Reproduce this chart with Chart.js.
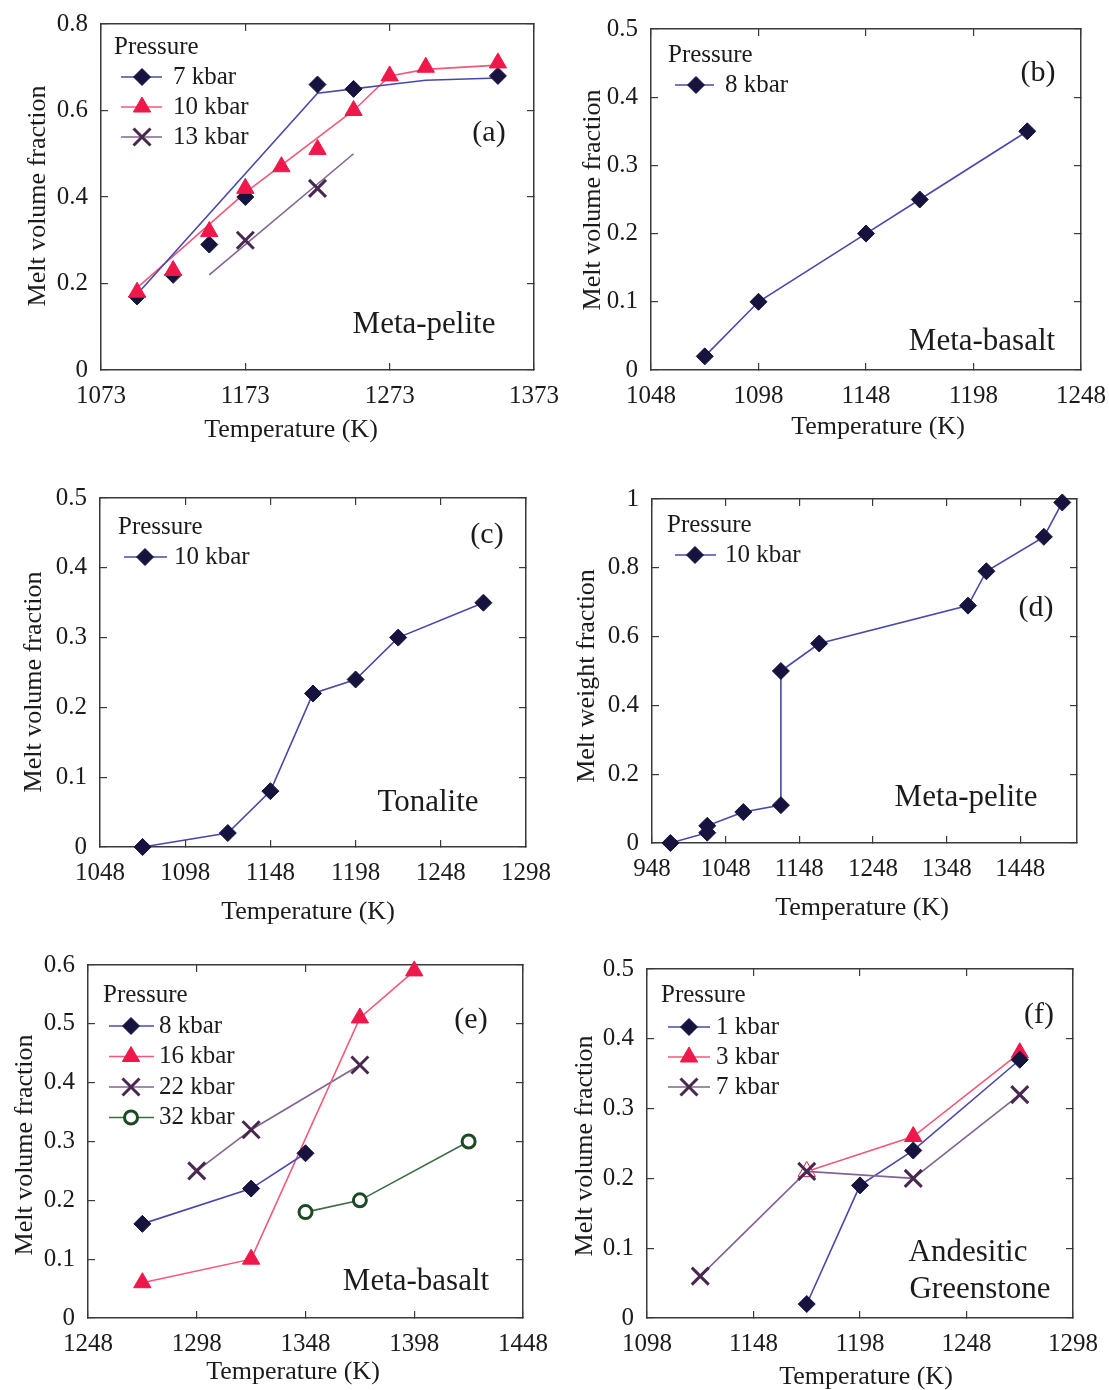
<!DOCTYPE html>
<html>
<head>
<meta charset="utf-8">
<title>Melt fraction vs temperature</title>
<script src="https://cdn.jsdelivr.net/npm/chart.js@4.4.1/dist/chart.umd.min.js"></script>
<style>
  html, body { margin: 0; padding: 0; background: #fff; }
  #sheet { position: relative; width: 1109px; height: 1390px; overflow: hidden; }
  #sheet canvas { position: absolute; }
</style>
</head>
<body>
<div id="sheet">
  <canvas id="panel-a"></canvas>
  <canvas id="panel-b"></canvas>
  <canvas id="panel-c"></canvas>
  <canvas id="panel-d"></canvas>
  <canvas id="panel-e"></canvas>
  <canvas id="panel-f"></canvas>
</div>
<script>
// ---- data: temperature (K) and melt fraction ----

// (a) meta-pelite
const aTempTicks = [1073, 1173, 1273, 1373];
const aMeltTicks = [0, 0.2, 0.4, 0.6, 0.8];
const a7Temp = [1098, 1123, 1148, 1173, 1223, 1248, 1348];
const a7Melt = [0.17, 0.22, 0.29, 0.40, 0.66, 0.65, 0.68];
const a7CurveTemp = [1098, 1223, 1248, 1273, 1298, 1348];
const a7CurveMelt = [0.175, 0.64, 0.65, 0.66, 0.67, 0.675];
const a10Temp = [1098, 1123, 1148, 1173, 1198, 1223, 1248, 1273, 1298, 1348];
const a10Melt = [0.18, 0.23, 0.32, 0.42, 0.47, 0.51, 0.60, 0.68, 0.70, 0.71];
const a10CurveTemp = [1098, 1173, 1248, 1273, 1298, 1348];
const a10CurveMelt = [0.19, 0.41, 0.60, 0.68, 0.695, 0.705];
const a13Temp = [1173, 1223];
const a13Melt = [0.30, 0.42];
const a13CurveTemp = [1148, 1248];
const a13CurveMelt = [0.22, 0.50];

// (b) meta-basalt
const bTempTicks = [1048, 1098, 1148, 1198, 1248];
const bMeltTicks = [0, 0.1, 0.2, 0.3, 0.4, 0.5];
const b8Temp = [1073, 1098, 1148, 1173, 1223];
const b8Melt = [0.02, 0.10, 0.20, 0.25, 0.35];

// (c) tonalite
const cTempTicks = [1048, 1098, 1148, 1198, 1248, 1298];
const cMeltTicks = [0, 0.1, 0.2, 0.3, 0.4, 0.5];
const c10Temp = [1073, 1123, 1148, 1173, 1198, 1223, 1273];
const c10Melt = [0, 0.02, 0.08, 0.22, 0.24, 0.30, 0.35];

// (d) meta-pelite, weight fraction
const dTempTicks = [948, 1048, 1148, 1248, 1348, 1448];
const dMeltTicks = [0, 0.2, 0.4, 0.6, 0.8, 1];
const d10Temp = [973, 1023, 1023, 1072, 1123, 1123, 1175, 1377, 1402, 1480, 1505];
const d10Melt = [0, 0.03, 0.05, 0.09, 0.11, 0.50, 0.58, 0.69, 0.79, 0.89, 0.99];

// (e) meta-basalt
const eTempTicks = [1248, 1298, 1348, 1398, 1448];
const eMeltTicks = [0, 0.1, 0.2, 0.3, 0.4, 0.5, 0.6];
const e8Temp = [1273, 1323, 1348];
const e8Melt = [0.16, 0.22, 0.28];
const e16Temp = [1273, 1323, 1373, 1398];
const e16Melt = [0.06, 0.10, 0.51, 0.59];
const e22Temp = [1298, 1323, 1373];
const e22Melt = [0.25, 0.32, 0.43];
const e32Temp = [1348, 1373, 1423];
const e32Melt = [0.18, 0.20, 0.30];

// (f) andesitic greenstone
const fTempTicks = [1098, 1148, 1198, 1248, 1298];
const fMeltTicks = [0, 0.1, 0.2, 0.3, 0.4, 0.5];
const f1Temp = [1173, 1198, 1223, 1273];
const f1Melt = [0.02, 0.19, 0.24, 0.37];
const f3Temp = [1173, 1223, 1273];
const f3Melt = [0.21, 0.26, 0.38];
const f7Temp = [1123, 1173, 1223, 1273];
const f7Melt = [0.06, 0.21, 0.20, 0.32];

// ---- styles ----
const serif = '"Liberation Serif", "Times New Roman", serif';
const ink = '#1b1b1b';
const frame = '#3a3a3a';
const navy = '#16143f';
const blueLine = '#4848ac';
const red = '#f0184a';
const redLine = '#f2587a';
const plum = '#48284f';
const plumLine = '#82648f';
const green = '#1d4a24';
const greenLine = '#3d6c44';

const diamond = { pointStyle: 'rectRot', pointRadius: 8.5, pointBackgroundColor: navy, pointBorderColor: navy, pointBorderWidth: 1 };
const triangle = { pointStyle: 'triangle', pointRadius: 10, pointBackgroundColor: red, pointBorderColor: red, pointBorderWidth: 1 };
const cross = { pointStyle: 'crossRot', pointRadius: 12, pointBackgroundColor: plum, pointBorderColor: plum, pointBorderWidth: 3 };
const ring = { pointStyle: 'circle', pointRadius: 6.5, pointBackgroundColor: '#fff', pointBorderColor: green, pointBorderWidth: 3 };

Chart.defaults.font.family = serif;

function series(temps, melts, marker, lineColor, extra) {
  return Object.assign({
    data: temps.map((t, i) => ({ x: t, y: melts[i] })),
    showLine: Boolean(lineColor),
    borderColor: lineColor || marker.pointBorderColor,
    borderWidth: 1.6,
    clip: false,
  }, marker, extra || {});
}

function curve(temps, melts, lineColor) {
  return series(temps, melts, { pointRadius: 0 }, lineColor);
}

// boxed frame with inward ticks on all four sides
function frameAxes(p) {
  const [cx, cy, cw, ch] = p.cell;
  const [L, T, R, B] = p.area;
  const size = { left: L - cx, top: T - cy, right: cx + cw - R, bottom: cy + ch - B };
  const border = { display: true, color: frame, width: 1.5 };
  const grid = { drawOnChartArea: false, drawTicks: true, tickLength: -7, color: frame, lineWidth: 1.2 };
  const font = { family: serif, size: 25 };
  const pin = (values) => (scale) => { scale.ticks = values.map((value) => ({ value })); };
  const label = (v) => String(v);
  // keep label overhang from shrinking the plot box
  const noPad = (s) => { s.paddingLeft = 0; s.paddingRight = 0; s.paddingTop = 0; s.paddingBottom = 0; };
  return {
    x: {
      type: 'linear', axis: 'x', position: 'bottom', min: p.xMin, max: p.xMax, border, grid,
      ticks: { font, color: ink, padding: 18, maxRotation: 0, minRotation: 0, autoSkip: false, callback: label },
      afterBuildTicks: pin(p.xTicks),
      afterFit: (s) => { s.height = size.bottom; noPad(s); },
    },
    x2: {
      type: 'linear', axis: 'x', position: 'top', min: p.xMin, max: p.xMax, border, grid,
      ticks: { display: false },
      afterBuildTicks: pin(p.xTicks),
      afterFit: (s) => { s.height = size.top; noPad(s); },
    },
    y: {
      type: 'linear', axis: 'y', position: 'left', min: 0, max: p.yMax, border, grid,
      ticks: { font, color: ink, padding: 20, autoSkip: false, callback: label },
      afterBuildTicks: pin(p.yTicks),
      afterFit: (s) => { s.width = size.left; noPad(s); },
    },
    y2: {
      type: 'linear', axis: 'y', position: 'right', min: 0, max: p.yMax, border, grid,
      ticks: { display: false },
      afterBuildTicks: pin(p.yTicks),
      afterFit: (s) => { s.width = size.right; noPad(s); },
    },
  };
}

// axis titles, panel notes and the "Pressure" legend, placed in page pixels
function panelDecor(p) {
  return {
    id: 'panelDecor',
    afterDraw(chart) {
      const ctx = chart.ctx;
      const [ox, oy] = p.cell;
      ctx.save();
      ctx.fillStyle = ink;
      ctx.textBaseline = 'middle';
      ctx.textAlign = 'center';
      ctx.font = `26px ${serif}`;
      ctx.fillText('Temperature (K)', p.xTitleAt[0] - ox, p.xTitleAt[1] - oy);
      ctx.save();
      ctx.translate(p.yTitleAt[0] - ox, p.yTitleAt[1] - oy);
      ctx.rotate(-Math.PI / 2);
      ctx.fillText(p.yTitle, 0, 0);
      ctx.restore();

      p.notes.forEach(([text, x, y, size]) => {
        ctx.font = `${size}px ${serif}`;
        ctx.fillText(text, x - ox, y - oy);
      });

      const lg = p.legend;
      ctx.textAlign = 'left';
      ctx.font = `25px ${serif}`;
      ctx.fillText('Pressure', lg.x - ox, lg.titleY - oy);
      lg.items.forEach((item, i) => {
        const y = lg.rowY + i * lg.rowGap - oy;
        ctx.strokeStyle = item.line;
        ctx.lineWidth = 1.6;
        ctx.beginPath();
        ctx.moveTo(lg.lineFrom - ox, y);
        ctx.lineTo(lg.lineTo - ox, y);
        ctx.stroke();
        const m = item.marker;
        ctx.fillStyle = m.pointBackgroundColor;
        ctx.strokeStyle = m.pointBorderColor;
        ctx.lineWidth = m.pointBorderWidth;
        Chart.helpers.drawPoint(ctx, { pointStyle: m.pointStyle, radius: m.pointRadius, borderWidth: m.pointBorderWidth, rotation: 0 }, lg.markX - ox, y);
        ctx.fillStyle = ink;
        ctx.fillText(item.label, lg.textX - ox, y);
      });
      ctx.restore();
    },
  };
}

function makePanel(id, p, datasets) {
  const canvas = document.getElementById(id);
  const [cx, cy, cw, ch] = p.cell;
  canvas.width = cw;
  canvas.height = ch;
  canvas.style.left = cx + 'px';
  canvas.style.top = cy + 'px';
  return new Chart(canvas, {
    type: 'scatter',
    data: { datasets },
    options: {
      responsive: false,
      animation: false,
      layout: { padding: 0, autoPadding: false },
      plugins: { legend: { display: false }, tooltip: { enabled: false } },
      scales: frameAxes(p),
    },
    plugins: [panelDecor(p)],
  });
}

makePanel('panel-a', {
  cell: [0, 0, 560, 460], area: [101, 24, 534, 370],
  xMin: 1073, xMax: 1373, xTicks: aTempTicks, yMax: 0.8, yTicks: aMeltTicks,
  yTitle: 'Melt volume fraction', xTitleAt: [291, 430], yTitleAt: [38, 196],
  notes: [['(a)', 489, 133, 30], ['Meta-pelite', 424, 325, 31]],
  legend: {
    x: 114, titleY: 47, lineFrom: 121, lineTo: 162, markX: 142, textX: 173, rowY: 77, rowGap: 30,
    items: [
      { label: '7 kbar', line: blueLine, marker: diamond },
      { label: '10 kbar', line: redLine, marker: triangle },
      { label: '13 kbar', line: plumLine, marker: cross },
    ],
  },
}, [
  series(a10Temp, a10Melt, triangle),
  series(a13Temp, a13Melt, cross),
  series(a7Temp, a7Melt, diamond),
  curve(a7CurveTemp, a7CurveMelt, blueLine),
  curve(a10CurveTemp, a10CurveMelt, redLine),
  curve(a13CurveTemp, a13CurveMelt, plumLine),
]);

makePanel('panel-b', {
  cell: [560, 0, 549, 460], area: [651, 29, 1081, 370],
  xMin: 1048, xMax: 1248, xTicks: bTempTicks, yMax: 0.5, yTicks: bMeltTicks,
  yTitle: 'Melt volume fraction', xTitleAt: [878, 427], yTitleAt: [593, 200],
  notes: [['(b)', 1038, 73, 30], ['Meta-basalt', 982, 342, 31]],
  legend: {
    x: 668, titleY: 55, lineFrom: 675, lineTo: 714, markX: 696, textX: 725, rowY: 85, rowGap: 30,
    items: [{ label: '8 kbar', line: blueLine, marker: diamond }],
  },
}, [
  series(b8Temp, b8Melt, diamond, blueLine),
]);

makePanel('panel-c', {
  cell: [0, 460, 560, 480], area: [100, 498, 526, 847],
  xMin: 1048, xMax: 1298, xTicks: cTempTicks, yMax: 0.5, yTicks: cMeltTicks,
  yTitle: 'Melt volume fraction', xTitleAt: [308, 912], yTitleAt: [34, 682],
  notes: [['(c)', 487, 535, 30], ['Tonalite', 428, 803, 31]],
  legend: {
    x: 118, titleY: 527, lineFrom: 124, lineTo: 167, markX: 145, textX: 174, rowY: 557, rowGap: 30,
    items: [{ label: '10 kbar', line: blueLine, marker: diamond }],
  },
}, [
  series(c10Temp, c10Melt, diamond, blueLine),
]);

makePanel('panel-d', {
  cell: [560, 460, 549, 480], area: [652, 499, 1077, 843],
  xMin: 948, xMax: 1525, xTicks: dTempTicks, yMax: 1, yTicks: dMeltTicks,
  yTitle: 'Melt weight fraction', xTitleAt: [862, 908], yTitleAt: [587, 676],
  notes: [['(d)', 1036, 608, 30], ['Meta-pelite', 966, 798, 31]],
  legend: {
    x: 667, titleY: 525, lineFrom: 675, lineTo: 716, markX: 695, textX: 725, rowY: 555, rowGap: 30,
    items: [{ label: '10 kbar', line: blueLine, marker: diamond }],
  },
}, [
  series(d10Temp, d10Melt, diamond, blueLine),
]);

makePanel('panel-e', {
  cell: [0, 940, 560, 450], area: [88, 965, 523, 1318],
  xMin: 1248, xMax: 1448, xTicks: eTempTicks, yMax: 0.6, yTicks: eMeltTicks,
  yTitle: 'Melt volume fraction', xTitleAt: [293, 1372], yTitleAt: [25, 1145],
  notes: [['(e)', 471, 1020, 30], ['Meta-basalt', 416, 1282, 31]],
  legend: {
    x: 103, titleY: 995, lineFrom: 109, lineTo: 154, markX: 131, textX: 159, rowY: 1026, rowGap: 30.5,
    items: [
      { label: '8 kbar', line: blueLine, marker: diamond },
      { label: '16 kbar', line: redLine, marker: triangle },
      { label: '22 kbar', line: plumLine, marker: cross },
      { label: '32 kbar', line: greenLine, marker: ring },
    ],
  },
}, [
  series(e8Temp, e8Melt, diamond, blueLine),
  series(e16Temp, e16Melt, triangle, redLine),
  series(e22Temp, e22Melt, cross, plumLine),
  series(e32Temp, e32Melt, ring, greenLine),
]);

makePanel('panel-f', {
  cell: [560, 940, 549, 450], area: [647, 969, 1073, 1318],
  xMin: 1098, xMax: 1298, xTicks: fTempTicks, yMax: 0.5, yTicks: fMeltTicks,
  yTitle: 'Melt volume fraction', xTitleAt: [866, 1377], yTitleAt: [585, 1146],
  notes: [['(f)', 1039, 1015, 30], ['Andesitic', 968, 1253, 31], ['Greenstone', 980, 1290, 31]],
  legend: {
    x: 661, titleY: 995, lineFrom: 668, lineTo: 710, markX: 689, textX: 716, rowY: 1027, rowGap: 30,
    items: [
      { label: '1 kbar', line: blueLine, marker: diamond },
      { label: '3 kbar', line: redLine, marker: triangle },
      { label: '7 kbar', line: plumLine, marker: cross },
    ],
  },
}, [
  series(f1Temp, f1Melt, diamond, blueLine, { order: 1 }),
  series(f3Temp, f3Melt, triangle, redLine, { order: 2, pointBackgroundColor: ['#fff', red, red] }),
  series(f7Temp, f7Melt, cross, plumLine, { order: 0 }),
]);
</script>
</body>
</html>
